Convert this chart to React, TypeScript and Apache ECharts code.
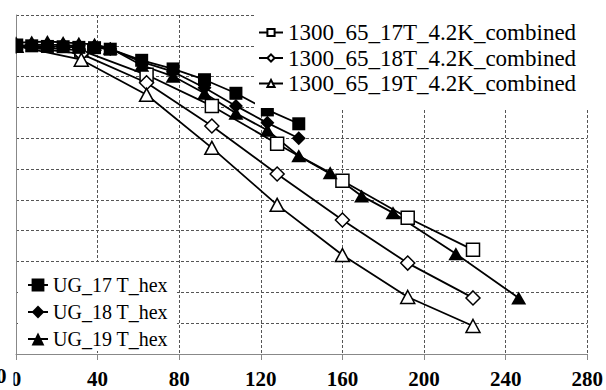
import React, { useEffect, useRef } from "react";
import * as echarts from "echarts";

// Field values (x) and normalised values (y)
const combinedField = [0, 32, 64, 96, 128, 160, 192, 224];
const combined17 = [1.0, 0.985, 0.906, 0.805, 0.682, 0.562, 0.442, 0.338];
const combined18 = [1.0, 0.974, 0.88, 0.74, 0.584, 0.435, 0.295, 0.182];
const combined19 = [1.0, 0.955, 0.841, 0.669, 0.484, 0.321, 0.185, 0.091];

const hexField = [0, 7.7, 15.4, 23.1, 30.8, 38.5, 46.2, 61.6, 77, 92.4, 107.8, 123.2, 138.6, 154, 169.4, 184.8, 215.6, 246.4];
const hex17 = [1.0, 1.0, 0.998, 0.997, 0.995, 0.994, 0.989, 0.953, 0.925, 0.89, 0.846, 0.792, 0.747];
const hex18 = [1.0, 1.003, 1.004, 1.002, 1.0, 0.998, 0.99, 0.948, 0.916, 0.864, 0.805, 0.75, 0.7];
const hex19 = [1.01, 1.012, 1.014, 1.011, 1.008, 1.005, 0.992, 0.937, 0.901, 0.846, 0.781, 0.726, 0.643, 0.588, 0.513, 0.458, 0.325, 0.182];

const combinedNames = ["1300_65_17T_4.2K_combined", "1300_65_18T_4.2K_combined", "1300_65_19T_4.2K_combined"];
const hexNames = ["UG_17 T_hex", "UG_18 T_hex", "UG_19 T_hex"];
const xTicks = [0, 40, 80, 120, 160, 200, 240, 280];

const pair = (xs: number[], ys: number[]) => ys.map((y, i) => [xs[i], y]);

export default function App() {
  const ref = useRef<HTMLDivElement>(null);
  useEffect(() => {
    document.body.style.margin = "0";
    if (!ref.current) return;
    const chart = echarts.init(ref.current, undefined, { renderer: "svg" });
    const serif = "Liberation Serif";
    const lineStyle = { color: "#000", width: 1.8 };
    const hollow = { color: "#fff", borderColor: "#000", borderWidth: 1.5 };
    const filled = { color: "#000", borderColor: "#000", borderWidth: 0 };
    const mk = (name: string, xs: number[], ys: number[], symbol: string, size: any, item: any) => ({
      name,
      type: "line",
      data: pair(xs, ys),
      symbol,
      symbolSize: size,
      showAllSymbol: true,
      lineStyle,
      itemStyle: item,
      emphasis: { disabled: true },
      clip: true,
    });
    chart.setOption({
      animation: false,
      grid: { left: 16, right: 16, top: 15, bottom: 36 },
      xAxis: {
        type: "value",
        min: xTicks[0],
        max: xTicks[xTicks.length - 1],
        interval: 40,
        axisLine: { show: true, lineStyle: { color: "#888", width: 1 } },
        axisTick: { show: true, length: 6, lineStyle: { color: "#888" } },
        axisLabel: {
          margin: 14,
          fontFamily: serif,
          fontWeight: "bold",
          fontSize: 21,
          color: "#000",
          showMaxLabel: true,
          showMinLabel: true,
        },
        splitLine: { show: true, lineStyle: { color: "#555", type: [3, 2], width: 1 } },
      },
      yAxis: {
        type: "value",
        min: 0,
        max: 1.1,
        interval: 0.1,
        axisLine: { show: true, lineStyle: { color: "#888", width: 1 } },
        axisTick: { show: false },
        axisLabel: { show: false },
        splitLine: { show: true, lineStyle: { color: "#555", type: [3, 2], width: 1 } },
      },
      legend: [
        {
          data: combinedNames,
          orient: "vertical",
          left: 255,
          top: 15,
          padding: [6, 13, 13, 3],
          itemWidth: 24,
          itemHeight: 9,
          itemGap: 2.5,
          itemTextGap: 5,
          selectedMode: false,
          backgroundColor: "#fff",
          textStyle: { fontFamily: serif, fontSize: 23, color: "#000" },
        },
        {
          data: hexNames,
          orient: "vertical",
          left: 18,
          top: 262,
          padding: [13, 9, 2, 9],
          itemWidth: 20,
          itemHeight: 16,
          itemGap: 7,
          itemTextGap: 1,
          selectedMode: false,
          backgroundColor: "#fff",
          textStyle: { fontFamily: serif, fontSize: 20, color: "#000" },
        },
      ],
      series: [
        mk(combinedNames[0], combinedField, combined17, "rect", 13, hollow),
        mk(combinedNames[1], combinedField, combined18, "diamond", 14, hollow),
        mk(combinedNames[2], combinedField, combined19, "triangle", [14, 13], hollow),
        mk(hexNames[0], hexField, hex17, "rect", 13, filled),
        mk(hexNames[1], hexField, hex18, "diamond", 14, filled),
        mk(hexNames[2], hexField, hex19, "triangle", [15, 13], filled),
      ],
      graphic: [
        { type: "rect", left: 0, top: 28, z: 100, shape: { width: 15.5, height: 34 }, style: { fill: "#fff" } },
        { type: "rect", left: 0, top: 360, z: 100, shape: { width: 13.5, height: 30 }, style: { fill: "#fff" } },
        {
          type: "text",
          x: -4,
          y: 365,
          z: 101,
          style: { text: "0", font: "bold 21px Liberation Serif", fill: "#000" },
        },
      ],
    });
    return () => chart.dispose();
  }, []);
  return <div ref={ref} style={{ position: "absolute", left: 0, top: 0, width: 606, height: 390 }} />;
}
